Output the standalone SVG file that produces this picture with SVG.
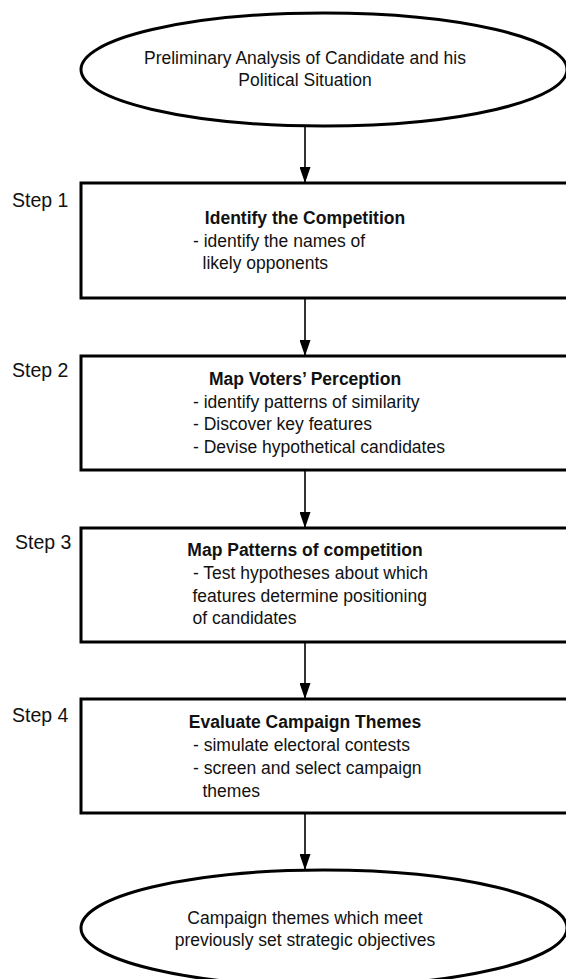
<svg xmlns="http://www.w3.org/2000/svg" width="566" height="979" viewBox="0 0 566 979">
<defs>
<style>
.shape{fill:#fff;stroke:#000;stroke-width:3}
.t{font-family:"Liberation Sans",Arial,sans-serif;font-size:17.5px;fill:#111}
.c{text-anchor:middle}
.b{font-weight:bold}
.step{font-family:"Liberation Sans",Arial,sans-serif;font-size:19.5px;fill:#111}
.conn{stroke:#000;stroke-width:1.6;fill:none}
</style>
<marker id="arr" viewBox="0 0 16 11" refX="16" refY="5.5" markerWidth="16" markerHeight="11" markerUnits="userSpaceOnUse" orient="auto">
<path d="M0,0 L16,5.5 L0,11 Z" fill="#000"/>
</marker>
</defs>
<rect width="566" height="979" fill="#fff"/>
<g id="connectors">
<line class="conn" x1="305" y1="126" x2="305" y2="183" marker-end="url(#arr)"/>
<line class="conn" x1="305" y1="298" x2="305" y2="356" marker-end="url(#arr)"/>
<line class="conn" x1="305" y1="470" x2="305" y2="528" marker-end="url(#arr)"/>
<line class="conn" x1="305" y1="642" x2="305" y2="699" marker-end="url(#arr)"/>
<line class="conn" x1="305" y1="813" x2="305" y2="870" marker-end="url(#arr)"/>
</g>
<g id="start">
<ellipse class="shape" cx="324" cy="69.5" rx="243" ry="56.5"/>
<text class="t c" x="305" y="64">Preliminary Analysis of Candidate and his</text>
<text class="t c" x="305" y="86">Political Situation</text>
</g>
<g id="step1">
<text class="step" x="12" y="207">Step 1</text>
<rect class="shape" x="81" y="183" width="495" height="115"/>
<text class="t c b" x="305" y="224">Identify the Competition</text>
<text class="t" x="193" y="246.5">- identify the names of</text>
<text class="t" x="202.5" y="269">likely opponents</text>
</g>
<g id="step2">
<text class="step" x="12" y="377">Step 2</text>
<rect class="shape" x="81" y="356" width="495" height="114"/>
<text class="t c b" x="305" y="385">Map Voters’ Perception</text>
<text class="t" x="193" y="407.5">- identify patterns of similarity</text>
<text class="t" x="193" y="430">- Discover key features</text>
<text class="t" x="193" y="452.5">- Devise hypothetical candidates</text>
</g>
<g id="step3">
<text class="step" x="15" y="549">Step 3</text>
<rect class="shape" x="81" y="528" width="495" height="114"/>
<text class="t c b" x="305" y="556">Map Patterns of competition</text>
<text class="t" x="193" y="578.5">- Test hypotheses about which</text>
<text class="t" x="192.5" y="601.5">features determine positioning</text>
<text class="t" x="192.5" y="624">of candidates</text>
</g>
<g id="step4">
<text class="step" x="12" y="721.5">Step 4</text>
<rect class="shape" x="81" y="699" width="495" height="114"/>
<text class="t c b" x="305" y="727.5">Evaluate Campaign Themes</text>
<text class="t" x="193" y="750.5">- simulate electoral contests</text>
<text class="t" x="193" y="774">- screen and select campaign</text>
<text class="t" x="202.5" y="796.5">themes</text>
</g>
<g id="end">
<ellipse class="shape" cx="324" cy="928" rx="243" ry="58"/>
<text class="t c" x="305" y="923.5">Campaign themes which meet</text>
<text class="t c" x="305" y="945.5">previously set strategic objectives</text>
</g>
</svg>
